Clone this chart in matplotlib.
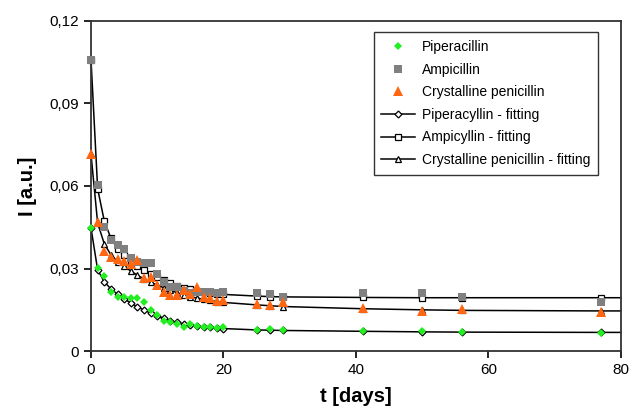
import matplotlib
matplotlib.use('Agg')
import matplotlib.pyplot as plt
from matplotlib.ticker import FuncFormatter

plt.rcParams['font.family'] = ['Liberation Sans', 'DejaVu Sans']

# measurement times (days)
t = [0, 1, 2, 3, 4, 5, 6, 7, 8, 9, 10, 11, 12, 13, 14, 15, 16, 17, 18, 19, 20,
     25, 27, 29, 41, 50, 56, 77]

# measured intensities
piperacillin = [0.0447, 0.0303, 0.0273, 0.0216, 0.0198, 0.0196, 0.0192, 0.0192, 0.0179, 0.0149,
                0.0131, 0.0110, 0.0107, 0.0097, 0.0088, 0.0097, 0.0092, 0.0088, 0.0088, 0.0085,
                0.0086, 0.0077, 0.0079, 0.0077, 0.0073, 0.0073, 0.0069, 0.0067]
ampicillin = [0.1058, 0.0604, 0.0452, 0.0404, 0.0384, 0.0372, 0.0340, 0.0322, 0.0319, 0.0319,
              0.0280, 0.0252, 0.0234, 0.0233, 0.0220, 0.0210, 0.0215, 0.0213, 0.0213, 0.0212,
              0.0213, 0.0212, 0.0206, 0.0198, 0.0212, 0.0212, 0.0196, 0.0179]
crystalline = [0.0715, 0.0470, 0.0365, 0.0343, 0.0334, 0.0327, 0.0315, 0.0331, 0.0264, 0.0270,
               0.0240, 0.0216, 0.0204, 0.0204, 0.0222, 0.0206, 0.0234, 0.0198, 0.0192, 0.0182,
               0.0185, 0.0170, 0.0168, 0.0177, 0.0158, 0.0145, 0.0152, 0.0142]

# fitted curves, read at the same times plus the right edge
t_fit = t + [80]
pip_fit = [0.0447, 0.0295, 0.0252, 0.0226, 0.0207, 0.0190, 0.0175, 0.0161, 0.0149, 0.0138,
           0.0128, 0.0119, 0.0111, 0.0104, 0.0099, 0.0095, 0.0091, 0.0088, 0.0086, 0.0084,
           0.0082, 0.0077, 0.0076, 0.0075, 0.0072, 0.0070, 0.0069, 0.0068, 0.0068]
amp_fit = [0.1058, 0.0590, 0.0473, 0.0410, 0.0372, 0.0348, 0.0328, 0.0311, 0.0296, 0.0282,
           0.0269, 0.0257, 0.0247, 0.0238, 0.0230, 0.0224, 0.0219, 0.0215, 0.0211, 0.0208,
           0.0206, 0.0200, 0.0198, 0.0197, 0.0195, 0.0194, 0.0194, 0.0194, 0.0194]
cry_fit = [0.0715, 0.0465, 0.0390, 0.0350, 0.0325, 0.0308, 0.0291, 0.0276, 0.0262, 0.0250,
           0.0240, 0.0230, 0.0221, 0.0212, 0.0205, 0.0198, 0.0193, 0.0188, 0.0184, 0.0180,
           0.0177, 0.0168, 0.0165, 0.0162, 0.0154, 0.0150, 0.0148, 0.0146, 0.0146]

fig = plt.figure(figsize=(6.33, 4.17), dpi=100)
ax = fig.add_axes([0.1438, 0.158, 0.837, 0.792])

n = len(t)
ax.plot(t, piperacillin, 'D', color='#22ee22', markersize=4.5, markeredgewidth=0,
        label='Piperacillin', zorder=3, clip_on=False)
ax.plot(t, ampicillin, 's', color='#808080', markersize=6, markeredgewidth=0,
        label='Ampicillin', zorder=3, clip_on=False)
ax.plot(t, crystalline, '^', color='#ff6611', markersize=6.5, markeredgewidth=0,
        label='Crystalline penicillin', zorder=3, clip_on=False)
ax.plot(t_fit, pip_fit, '-', color='black', lw=1.1, marker='D', markersize=3.5, mfc='white', mec='black',
        mew=0.9, markevery=list(range(n)), label='Piperacyllin - fitting', zorder=2, clip_on=False)
ax.plot(t_fit, amp_fit, '-', color='black', lw=1.1, marker='s', markersize=4.5, mfc='white', mec='black',
        mew=0.9, markevery=list(range(n)), label='Ampicyllin - fitting', zorder=2, clip_on=False)
ax.plot(t_fit, cry_fit, '-', color='black', lw=1.1, marker='^', markersize=4.5, mfc='white', mec='black',
        mew=0.9, markevery=list(range(n)), label='Crystalline penicillin - fitting', zorder=2, clip_on=False)

ax.set_xlim(0, 80)
ax.set_ylim(0, 0.12)
ax.set_xticks([0, 20, 40, 60, 80])
ax.set_yticks([0, 0.03, 0.06, 0.09, 0.12])
ax.yaxis.set_major_formatter(FuncFormatter(lambda v, p: '0' if v == 0 else ('%.2f' % v).replace('.', ',')))
ax.tick_params(direction='out', length=5, width=1.2, labelsize=11, colors='black')
for s in ax.spines.values():
    s.set_linewidth(1.3)
    s.set_color('#333333')

ax.set_xlabel('t [days]', fontsize=14.5, fontweight='bold', labelpad=7)
ax.set_ylabel('I [a.u.]', fontsize=14.5, fontweight='bold', labelpad=9)

leg = ax.legend(loc='upper right', bbox_to_anchor=(0.956, 0.965), fontsize=10, frameon=True, fancybox=False,
                edgecolor='black', handlelength=2.4, borderpad=0.55, labelspacing=0.62, handletextpad=0.5,
                numpoints=1, borderaxespad=0)
leg.get_frame().set_linewidth(1.0)

fig.savefig('out.png', dpi=100)
